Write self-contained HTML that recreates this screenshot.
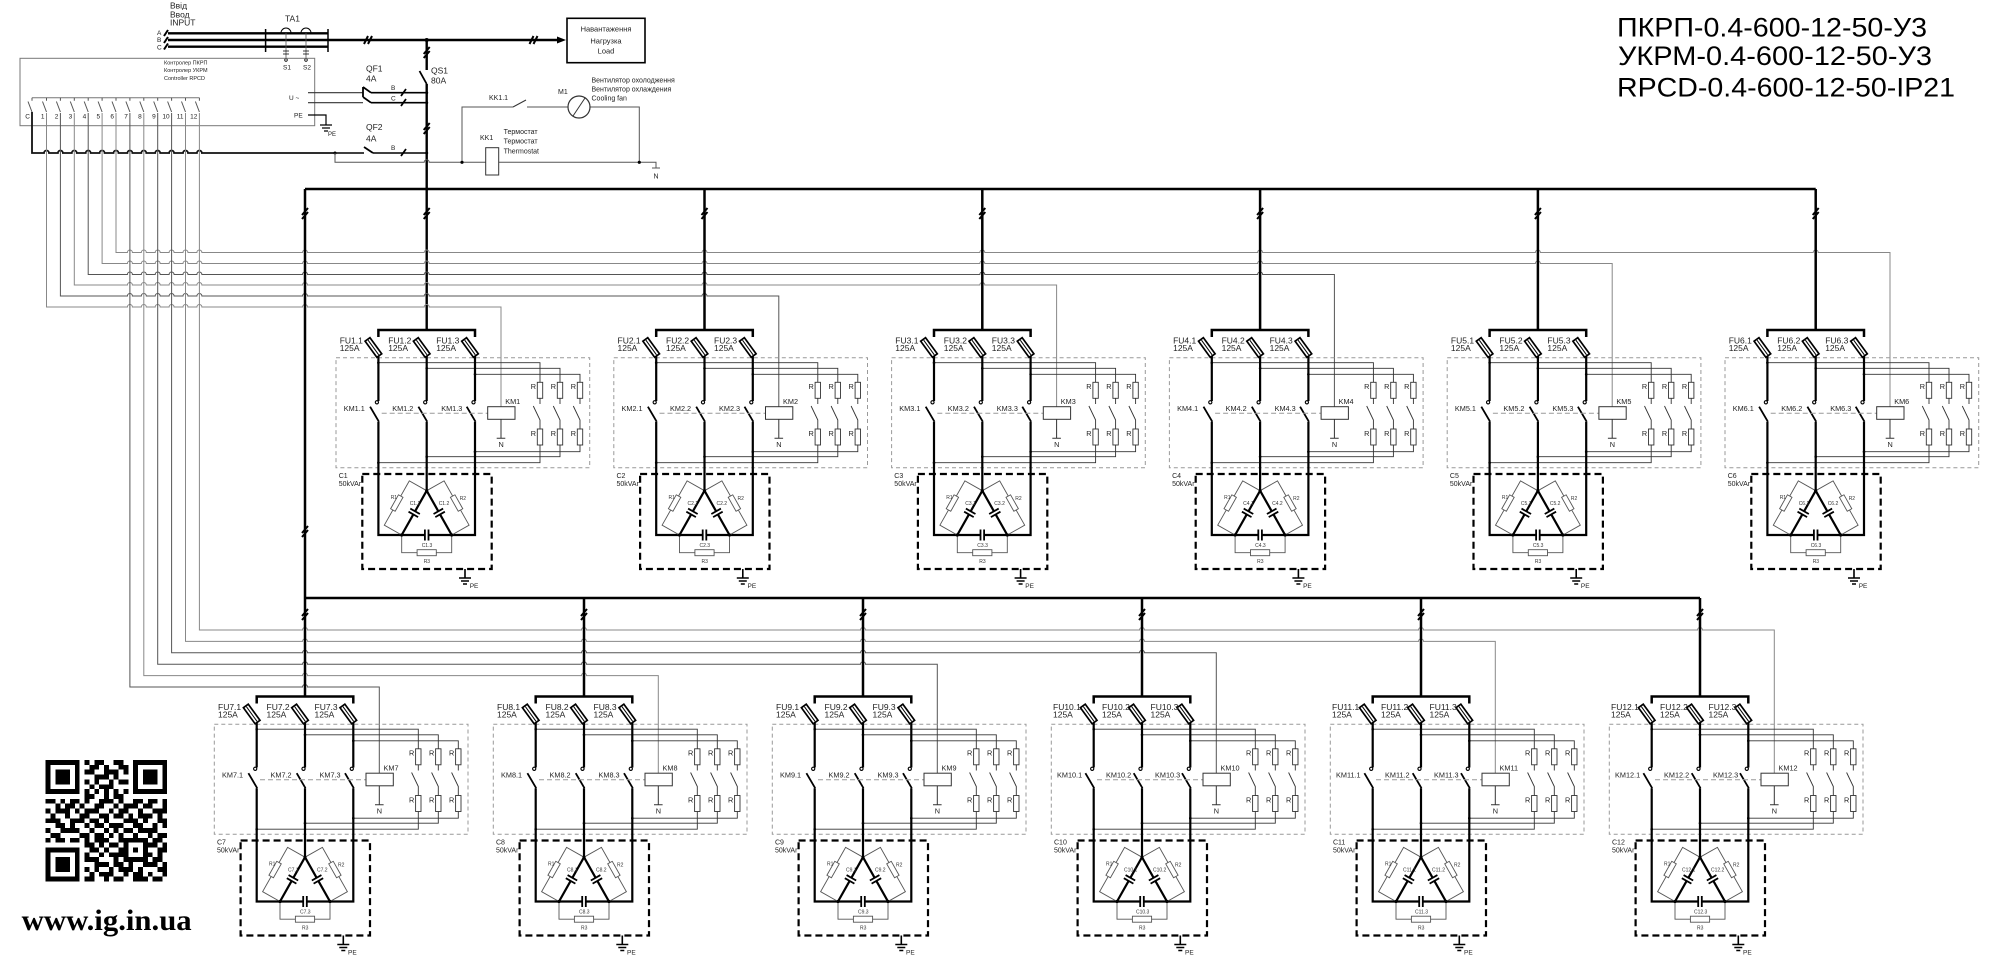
<!DOCTYPE html>
<html><head><meta charset="utf-8">
<style>
html,body{margin:0;padding:0;background:#fff;}
svg{display:block;}
text{font-family:"Liberation Sans",Arial,sans-serif;fill:#222;}
.f{font-size:8.5px;}
.k{font-size:7.3px;}
.c{font-size:7px;}
.u{font-size:5px;fill:#333;}
.s{font-size:6.5px;}
.t{font-size:8.5px;}
</style></head>
<body>
<svg xmlns="http://www.w3.org/2000/svg" xmlns:xlink="http://www.w3.org/1999/xlink" width="2000" height="963" viewBox="0 0 2000 963">
<rect width="2000" height="963" fill="#fff"/>
<defs>
<g id="m">
 <rect x="-90.7" y="27.7" width="253.7" height="110" fill="none" stroke="#999" stroke-width="1" stroke-dasharray="4,3"/>
 <rect x="-64.4" y="144" width="129.4" height="95" fill="none" stroke="#000" stroke-width="2.2" stroke-dasharray="7,4"/>
 <path d="M-48.3,7V0H48.3V7" fill="none" stroke="#000" stroke-width="2.5"/>
 <!-- taps -->
 <path d="M-48.3,32.7H113.3V52.3M0,38.3H133.3V52.3M48.3,44.3H153.3V52.3M48.3,121.7H153.3V115M0,126.7H133.3V115M-48.3,132.7H113.3V115" fill="none" stroke="#333" stroke-width="0.9"/>
 <!-- phase lines -->
 <path d="M-48.3,25V71M0,25V71M48.3,25V71" fill="none" stroke="#000" stroke-width="2.2"/>
 <path d="M-48.3,91.7V205H-1.8M1.8,205H48.3V91.7M0,91.7V160.7" fill="none" stroke="#000" stroke-width="2.2"/>
 <path d="M-56.6,76.7L-47.8,91.7M-8.3,76.7L0.5,91.7M40,76.7L48.8,91.7" stroke="#000" stroke-width="1.8"/>
 <g fill="#fff" stroke="#000" stroke-width="1.1">
  <circle cx="-49.8" cy="72.3" r="1.6"/><circle cx="-1.5" cy="72.3" r="1.6"/><circle cx="46.8" cy="72.3" r="1.6"/>
 </g>
 <!-- fuses -->
 <g transform="translate(-53.3,17.5) rotate(-36)"><rect x="-3" y="-10" width="6" height="20" fill="#fff" stroke="#000" stroke-width="1.7"/><line x1="0" y1="-9" x2="0" y2="9" stroke="#000" stroke-width="1"/></g>
 <g transform="translate(-5,17.5) rotate(-36)"><rect x="-3" y="-10" width="6" height="20" fill="#fff" stroke="#000" stroke-width="1.7"/><line x1="0" y1="-9" x2="0" y2="9" stroke="#000" stroke-width="1"/></g>
 <g transform="translate(43.3,17.5) rotate(-36)"><rect x="-3" y="-10" width="6" height="20" fill="#fff" stroke="#000" stroke-width="1.7"/><line x1="0" y1="-9" x2="0" y2="9" stroke="#000" stroke-width="1"/></g>
 <!-- KM link -->
 <path d="M-45,83.3H61" stroke="#999" stroke-width="1" stroke-dasharray="5,3"/>
 <rect x="61" y="76.7" width="27.3" height="12.6" fill="#fff" stroke="#333" stroke-width="1"/>
 <path d="M74.3,89.3V108.3M70,108.3H78.6" stroke="#333" stroke-width="1"/>
 <!-- resistors -->
 <g fill="#fff" stroke="#333" stroke-width="0.9">
  <rect x="110.6" y="52.3" width="5.4" height="16"/><rect x="130.6" y="52.3" width="5.4" height="16"/><rect x="150.6" y="52.3" width="5.4" height="16"/>
  <rect x="110.6" y="99" width="5.4" height="16"/><rect x="130.6" y="99" width="5.4" height="16"/><rect x="150.6" y="99" width="5.4" height="16"/>
  <path fill="none" d="M113.3,68.3V74M106.6,76L113.3,90V99M133.3,68.3V74M126.6,76L133.3,90V99M153.3,68.3V74M146.6,76L153.3,90V99"/>
 </g>
 <g fill="#000">
  <circle cx="-48.3" cy="32.7" r="1.3"/><circle cx="0" cy="38.3" r="1.3"/><circle cx="48.3" cy="44.3" r="1.3"/>
  <circle cx="48.3" cy="121.7" r="1.3"/><circle cx="0" cy="126.7" r="1.3"/><circle cx="-48.3" cy="132.7" r="1.3"/>
 </g>
 <!-- delta -->
 <path d="M0,160.7L-11.62,181.28M-13.38,184.42L-25,205M0,160.7L11.62,181.28M13.38,184.42L25,205" stroke="#000" stroke-width="2.2" fill="none"/>
 <path d="M-6.84,183.98L-16.41,178.58M-8.6,187.12L-18.17,181.72M6.84,183.98L16.41,178.58M8.6,187.12L18.17,181.72M-1.8,199.5V210.5M1.8,199.5V210.5" stroke="#000" stroke-width="1.8"/>
 <path d="M0,160.7L-17.4,150.9L-42.4,195.2L-25,205M0,160.7L17.4,150.9L42.4,195.2L25,205M-25,205V222.7H25V205" fill="none" stroke="#555" stroke-width="0.9"/>
 <g fill="#fff" stroke="#555" stroke-width="0.9">
  <rect x="-8" y="-2.6" width="16" height="5.2" transform="translate(-29.9,173.05) rotate(119.4)"/>
  <rect x="-8" y="-2.6" width="16" height="5.2" transform="translate(29.9,173.05) rotate(60.6)"/>
  <rect x="-9.6" y="219.7" width="19.2" height="6"/>
 </g>
 <g fill="#000"><circle cx="0" cy="160.7" r="1.6"/><circle cx="-25" cy="205" r="1.6"/><circle cx="25" cy="205" r="1.6"/></g>
 <!-- ground -->
 <path d="M38.3,239V248M32.3,248H44.3M34.3,251H42.3M36.3,254H40.3" stroke="#000" stroke-width="1.6"/>
</g>
</defs>

<!-- Title -->
<text x="1617" y="36.7" style="font-size:27px;fill:#000" textLength="310" lengthAdjust="spacingAndGlyphs">ПКРП-0.4-600-12-50-У3</text>
<text x="1618" y="65" style="font-size:27px;fill:#000" textLength="314" lengthAdjust="spacingAndGlyphs">УКРМ-0.4-600-12-50-У3</text>
<text x="1617" y="96.7" style="font-size:27px;fill:#000" textLength="338" lengthAdjust="spacingAndGlyphs">RPCD-0.4-600-12-50-IP21</text>

<!-- Input section -->
<text class="t" x="170" y="8.3">Ввід</text>
<text class="t" x="170" y="17.3">Ввод</text>
<text class="t" x="170" y="25.5">INPUT</text>
<text class="s" x="157" y="35">A</text><text class="s" x="157" y="42">B</text><text class="s" x="157" y="49.5">C</text>
<g stroke="#000" fill="none">
 <path d="M164,36l4,-6M164,43l4,-6M164,49.5l4,-6" stroke-width="2"/>
 <path d="M168,33.3H328M168,40H328M168,46.7H328" stroke-width="2.4"/>
 <path d="M265.6,29V52M328,29V52" stroke-width="1.5"/>
 <path d="M328,40H558" stroke-width="2.4"/>
 <path d="M281,33a5,5 0 0 1 10,0M301,33a5,5 0 0 1 10,0" stroke-width="1"/>
 <path d="M286,33V60M306,33V60" stroke="#555" stroke-width="0.8"/>
 <path d="M283,51h6M283,54h6M303,51h6M303,54h6" stroke-width="0.8"/>
 <rect x="567" y="18.3" width="78" height="44.4" stroke-width="1.6"/>
 <path d="M364,44l4,-8M368,44l4,-8M529.5,44l4,-8M533.5,44l4,-8" stroke-width="2"/>
</g>
<path d="M557,36.5L566,40L557,43.5Z" fill="#000"/>
<circle cx="286" cy="60" r="1.3" fill="#fff" stroke="#000" stroke-width="0.8"/><circle cx="306" cy="60" r="1.3" fill="#fff" stroke="#000" stroke-width="0.8"/>
<text x="285" y="21.7" class="t">TA1</text>
<text x="283" y="69.3" class="s">S1</text><text x="303" y="69.3" class="s">S2</text>
<text x="606" y="31.7" style="font-size:7.5px" text-anchor="middle">Навантаження</text>
<text x="606" y="43.3" style="font-size:7.5px" text-anchor="middle">Нагрузка</text>
<text x="606" y="53.3" style="font-size:7.5px" text-anchor="middle">Load</text>

<!-- QS1 -->
<path d="M426.7,40V70M426.7,84V330" stroke="#000" stroke-width="2.4" fill="none"/>
<path d="M426.7,84L419.5,71" stroke="#000" stroke-width="1.8"/>
<circle cx="426.7" cy="40" r="2" fill="#000"/>
<text class="t" x="431" y="73.3">QS1</text><text class="t" x="431" y="83.3">80A</text>

<!-- Controller -->
<rect x="20" y="58.3" width="294.7" height="67.4" fill="none" stroke="#777" stroke-width="1"/>
<text x="164" y="64.3" style="font-size:5.5px">Контролер ПКРП</text>
<text x="164" y="72" style="font-size:5.5px">Контролер УКРМ</text>
<text x="164" y="80" style="font-size:5.5px">Controller RPCD</text>
<text class="s" x="289" y="100">U ~</text>
<text class="s" x="294" y="117.3">PE</text>
<path d="M308,92.7H363M308,102.7H363" stroke="#333" stroke-width="1.2"/>
<path d="M363,87L371,92.7M363,97L371,102.7M363,87V97" stroke="#000" stroke-width="1.8"/>
<path d="M371,92.7H426.7M371,102.7H426.7" stroke="#000" stroke-width="1.6"/>
<path d="M401,96l5,-7M401,106l5,-7" stroke="#000" stroke-width="1.8"/>
<text class="s" x="391" y="90">B</text><text class="s" x="391" y="100.5">C</text>
<circle cx="426.7" cy="92.7" r="1.5" fill="#000"/><circle cx="426.7" cy="102.7" r="1.5" fill="#000"/>
<text class="t" x="366" y="71.7">QF1</text><text class="t" x="366" y="81.7">4A</text>
<path d="M308,115H326V125M320,125H332M322,128H330M324,131H328" stroke="#000" stroke-width="1.2" fill="none"/>
<text x="328" y="136" style="font-size:6px">PE</text>

<!-- switch bank -->
<path d="M32,97.7H199.4" stroke="#777" stroke-width="1"/>
<g stroke="#555" stroke-width="1" fill="none">
<path d="M32,97.7v3M28,101.5L32,112M46.5,97.7v3M42.5,101.5L46.5,112M60.4,97.7v3M56.4,101.5L60.4,112M74.3,97.7v3M70.3,101.5L74.3,112M88.2,97.7v3M84.2,101.5L88.2,112M102.1,97.7v3M98.1,101.5L102.1,112M116,97.7v3M112,101.5L116,112M129.9,97.7v3M125.9,101.5L129.9,112M143.8,97.7v3M139.8,101.5L143.8,112M157.7,97.7v3M153.7,101.5L157.7,112M171.6,97.7v3M167.6,101.5L171.6,112M185.5,97.7v3M181.5,101.5L185.5,112M199.4,97.7v3M195.4,101.5L199.4,112"/>
</g>
<g class="s" text-anchor="end">
<text x="30" y="118.3">C</text><text x="44.5" y="118.3">1</text><text x="58.4" y="118.3">2</text><text x="72.3" y="118.3">3</text><text x="86.2" y="118.3">4</text><text x="100.1" y="118.3">5</text><text x="114" y="118.3">6</text><text x="127.9" y="118.3">7</text><text x="141.8" y="118.3">8</text><text x="155.7" y="118.3">9</text><text x="169.6" y="118.3">10</text><text x="183.5" y="118.3">11</text><text x="197.4" y="118.3">12</text>
</g>

<!-- common line y=153 -->
<path d="M32,112V153H44a2.5 2.5 0 0 1 5 0H57.9a2.5 2.5 0 0 1 5 0H71.8a2.5 2.5 0 0 1 5 0H85.7a2.5 2.5 0 0 1 5 0H99.6a2.5 2.5 0 0 1 5 0H113.5a2.5 2.5 0 0 1 5 0H127.4a2.5 2.5 0 0 1 5 0H141.3a2.5 2.5 0 0 1 5 0H155.2a2.5 2.5 0 0 1 5 0H169.1a2.5 2.5 0 0 1 5 0H183a2.5 2.5 0 0 1 5 0H196.9a2.5 2.5 0 0 1 5 0H335" fill="none" stroke="#111" stroke-width="1.8"/>
<path d="M335,153H364M373,153H426.7" stroke="#000" stroke-width="1.6"/>
<path d="M364,147L373,153" stroke="#000" stroke-width="1.8"/>
<path d="M401,156l5,-7" stroke="#000" stroke-width="1.8"/>
<text class="s" x="391" y="150">B</text>
<text class="t" x="366" y="130">QF2</text><text class="t" x="366" y="141.7">4A</text>
<circle cx="426.7" cy="153" r="1.5" fill="#000"/><circle cx="335" cy="153" r="1.5" fill="#000"/>
<path d="M335,153V162.3H424.2a2.5 2.5 0 0 1 5 0H656V168M652,168H660" fill="none" stroke="#555" stroke-width="1"/>
<text x="656" y="178.3" class="c" text-anchor="middle">N</text>
<path d="M462,162.3V107H513M527,107H568M590,107H639.3V162.3" fill="none" stroke="#555" stroke-width="1"/>
<path d="M513,107L526,100" stroke="#333" stroke-width="1"/>
<circle cx="462" cy="162.3" r="1.6" fill="#000"/><circle cx="639.3" cy="162.3" r="1.6" fill="#000"/>
<circle cx="579" cy="107" r="11" fill="#fff" stroke="#333" stroke-width="1.2"/>
<path d="M573,116L585,98" stroke="#333" stroke-width="1"/>
<text class="c" x="489" y="100">KK1.1</text>
<text class="c" x="558" y="94">M1</text>
<text class="c" x="591.5" y="82.7">Вентилятор охолодження</text>
<text class="c" x="591.5" y="91.7">Вентилятор охлаждения</text>
<text class="c" x="591.5" y="100.7">Cooling fan</text>
<rect x="485.7" y="147.7" width="13" height="27.3" fill="#fff" stroke="#333" stroke-width="1"/>
<text class="c" x="480" y="140">KK1</text>
<text class="c" x="503.6" y="134">Термостат</text>
<text class="c" x="503.6" y="143.3">Термостат</text>
<text class="c" x="503.6" y="153.3">Thermostat</text>

<!-- Control lines -->
<g fill="none" stroke-width="1">
<path stroke="#888" d="M46.5,113V307H127.4a2.5 2.5 0 0 1 5 0H141.3a2.5 2.5 0 0 1 5 0H155.2a2.5 2.5 0 0 1 5 0H169.1a2.5 2.5 0 0 1 5 0H183a2.5 2.5 0 0 1 5 0H196.9a2.5 2.5 0 0 1 5 0H302.5a2.5 2.5 0 0 1 5 0H424.2a2.5 2.5 0 0 1 5 0H501V406.7"/>
<path stroke="#555" d="M60.4,113V296H127.4a2.5 2.5 0 0 1 5 0H141.3a2.5 2.5 0 0 1 5 0H155.2a2.5 2.5 0 0 1 5 0H169.1a2.5 2.5 0 0 1 5 0H183a2.5 2.5 0 0 1 5 0H196.9a2.5 2.5 0 0 1 5 0H302.5a2.5 2.5 0 0 1 5 0H424.2a2.5 2.5 0 0 1 5 0H702a2.5 2.5 0 0 1 5 0H778.8V406.7"/>
<path stroke="#888" d="M74.3,113V285H127.4a2.5 2.5 0 0 1 5 0H141.3a2.5 2.5 0 0 1 5 0H155.2a2.5 2.5 0 0 1 5 0H169.1a2.5 2.5 0 0 1 5 0H183a2.5 2.5 0 0 1 5 0H196.9a2.5 2.5 0 0 1 5 0H302.5a2.5 2.5 0 0 1 5 0H424.2a2.5 2.5 0 0 1 5 0H702a2.5 2.5 0 0 1 5 0H979.8a2.5 2.5 0 0 1 5 0H1056.6V406.7"/>
<path stroke="#555" d="M88.2,113V274.5H127.4a2.5 2.5 0 0 1 5 0H141.3a2.5 2.5 0 0 1 5 0H155.2a2.5 2.5 0 0 1 5 0H169.1a2.5 2.5 0 0 1 5 0H183a2.5 2.5 0 0 1 5 0H196.9a2.5 2.5 0 0 1 5 0H302.5a2.5 2.5 0 0 1 5 0H424.2a2.5 2.5 0 0 1 5 0H702a2.5 2.5 0 0 1 5 0H979.8a2.5 2.5 0 0 1 5 0H1257.6a2.5 2.5 0 0 1 5 0H1334.4V406.7"/>
<path stroke="#888" d="M102.1,113V263.5H127.4a2.5 2.5 0 0 1 5 0H141.3a2.5 2.5 0 0 1 5 0H155.2a2.5 2.5 0 0 1 5 0H169.1a2.5 2.5 0 0 1 5 0H183a2.5 2.5 0 0 1 5 0H196.9a2.5 2.5 0 0 1 5 0H302.5a2.5 2.5 0 0 1 5 0H424.2a2.5 2.5 0 0 1 5 0H702a2.5 2.5 0 0 1 5 0H979.8a2.5 2.5 0 0 1 5 0H1257.6a2.5 2.5 0 0 1 5 0H1535.4a2.5 2.5 0 0 1 5 0H1612.2V406.7"/>
<path stroke="#888" d="M116,113V252.5H127.4a2.5 2.5 0 0 1 5 0H141.3a2.5 2.5 0 0 1 5 0H155.2a2.5 2.5 0 0 1 5 0H169.1a2.5 2.5 0 0 1 5 0H183a2.5 2.5 0 0 1 5 0H196.9a2.5 2.5 0 0 1 5 0H302.5a2.5 2.5 0 0 1 5 0H424.2a2.5 2.5 0 0 1 5 0H702a2.5 2.5 0 0 1 5 0H979.8a2.5 2.5 0 0 1 5 0H1257.6a2.5 2.5 0 0 1 5 0H1535.4a2.5 2.5 0 0 1 5 0H1813.2a2.5 2.5 0 0 1 5 0H1890V406.7"/>
<path stroke="#555" d="M129.9,113V687H302.5a2.5 2.5 0 0 1 5 0H379.3V773.2"/>
<path stroke="#888" d="M143.8,113V675.6H302.5a2.5 2.5 0 0 1 5 0H581.5a2.5 2.5 0 0 1 5 0H658.3V773.2"/>
<path stroke="#555" d="M157.7,113V664.2H302.5a2.5 2.5 0 0 1 5 0H581.5a2.5 2.5 0 0 1 5 0H860.5a2.5 2.5 0 0 1 5 0H937.3V773.2"/>
<path stroke="#555" d="M171.6,113V652.8H302.5a2.5 2.5 0 0 1 5 0H581.5a2.5 2.5 0 0 1 5 0H860.5a2.5 2.5 0 0 1 5 0H1139.5a2.5 2.5 0 0 1 5 0H1216.3V773.2"/>
<path stroke="#888" d="M185.5,113V641.4H302.5a2.5 2.5 0 0 1 5 0H581.5a2.5 2.5 0 0 1 5 0H860.5a2.5 2.5 0 0 1 5 0H1139.5a2.5 2.5 0 0 1 5 0H1418.5a2.5 2.5 0 0 1 5 0H1495.3V773.2"/>
<path stroke="#888" d="M199.4,113V630H302.5a2.5 2.5 0 0 1 5 0H581.5a2.5 2.5 0 0 1 5 0H860.5a2.5 2.5 0 0 1 5 0H1139.5a2.5 2.5 0 0 1 5 0H1418.5a2.5 2.5 0 0 1 5 0H1697.5a2.5 2.5 0 0 1 5 0H1774.3V773.2"/>
</g>

<!-- Power buses -->
<g stroke="#000" stroke-width="2.5" fill="none">
<path d="M305,189H1815.7M305,189V696.5M305,598H1700"/>
<path d="M704.5,189V330M982.3,189V330M1260.1,189V330M1537.9,189V330M1815.7,189V330"/>
<path d="M584,598V696.5M863,598V696.5M1142,598V696.5M1421,598V696.5M1700,598V696.5"/>
</g>
<g stroke="#000" stroke-width="2" fill="none">
<path d="M423.7,54l6,-7M423.7,58l6,-7M423.7,130l6,-7M423.7,134l6,-7M423.7,215l6,-7M423.7,219l6,-7"/>
<path d="M302,215l6,-7M302,219l6,-7M302,533l6,-7M302,537l6,-7M302,616l6,-7M302,620l6,-7"/>
<path d="M701.5,215l6,-7M701.5,219l6,-7M979.3,215l6,-7M979.3,219l6,-7M1257.1,215l6,-7M1257.1,219l6,-7M1534.9,215l6,-7M1534.9,219l6,-7M1812.7,215l6,-7M1812.7,219l6,-7"/>
<path d="M581,616l6,-7M581,620l6,-7M860,616l6,-7M860,620l6,-7M1139,616l6,-7M1139,620l6,-7M1418,616l6,-7M1418,620l6,-7M1697,616l6,-7M1697,620l6,-7"/>
</g>

<!-- Modules -->
<use href="#m" xlink:href="#m" transform="translate(426.7,330)"/>
<use href="#m" xlink:href="#m" transform="translate(704.5,330)"/>
<use href="#m" xlink:href="#m" transform="translate(982.3,330)"/>
<use href="#m" xlink:href="#m" transform="translate(1260.1,330)"/>
<use href="#m" xlink:href="#m" transform="translate(1537.9,330)"/>
<use href="#m" xlink:href="#m" transform="translate(1815.7,330)"/>
<use href="#m" xlink:href="#m" transform="translate(305,696.5)"/>
<use href="#m" xlink:href="#m" transform="translate(584,696.5)"/>
<use href="#m" xlink:href="#m" transform="translate(863,696.5)"/>
<use href="#m" xlink:href="#m" transform="translate(1142,696.5)"/>
<use href="#m" xlink:href="#m" transform="translate(1421,696.5)"/>
<use href="#m" xlink:href="#m" transform="translate(1700,696.5)"/>

<!-- Module texts -->
<g transform="translate(426.7,330)">
<text class="f" x="-87" y="13.3">FU1.1</text><text class="f" x="-87" y="21">125A</text><text class="f" x="-38.5" y="13.3">FU1.2</text><text class="f" x="-38.5" y="21">125A</text><text class="f" x="9.5" y="13.3">FU1.3</text><text class="f" x="9.5" y="21">125A</text>
<text class="k" x="-83" y="81">KM1.1</text><text class="k" x="-34.5" y="81">KM1.2</text><text class="k" x="14.5" y="81">KM1.3</text><text class="k" x="78.5" y="74">KM1</text><text class="k" x="71.8" y="117">N</text>
<text class="k" x="104" y="59">R</text><text class="k" x="124" y="59">R</text><text class="k" x="144" y="59">R</text><text class="k" x="104" y="106">R</text><text class="k" x="124" y="106">R</text><text class="k" x="144" y="106">R</text>
<text class="c" x="-88" y="148">C1</text><text class="c" x="-88" y="156">50kVAr</text>
<text class="u" x="-36" y="169">R1</text><text class="u" x="-17" y="175">C1.1</text><text class="u" x="12" y="175">C1.2</text><text class="u" x="33" y="170">R2</text><text class="u" x="-5" y="217">C1.3</text><text class="u" x="-3" y="233">R3</text><text class="s" x="43" y="258">PE</text>
</g>
<g transform="translate(704.5,330)">
<text class="f" x="-87" y="13.3">FU2.1</text><text class="f" x="-87" y="21">125A</text><text class="f" x="-38.5" y="13.3">FU2.2</text><text class="f" x="-38.5" y="21">125A</text><text class="f" x="9.5" y="13.3">FU2.3</text><text class="f" x="9.5" y="21">125A</text>
<text class="k" x="-83" y="81">KM2.1</text><text class="k" x="-34.5" y="81">KM2.2</text><text class="k" x="14.5" y="81">KM2.3</text><text class="k" x="78.5" y="74">KM2</text><text class="k" x="71.8" y="117">N</text>
<text class="k" x="104" y="59">R</text><text class="k" x="124" y="59">R</text><text class="k" x="144" y="59">R</text><text class="k" x="104" y="106">R</text><text class="k" x="124" y="106">R</text><text class="k" x="144" y="106">R</text>
<text class="c" x="-88" y="148">C2</text><text class="c" x="-88" y="156">50kVAr</text>
<text class="u" x="-36" y="169">R1</text><text class="u" x="-17" y="175">C2.1</text><text class="u" x="12" y="175">C2.2</text><text class="u" x="33" y="170">R2</text><text class="u" x="-5" y="217">C2.3</text><text class="u" x="-3" y="233">R3</text><text class="s" x="43" y="258">PE</text>
</g>
<g transform="translate(982.3,330)">
<text class="f" x="-87" y="13.3">FU3.1</text><text class="f" x="-87" y="21">125A</text><text class="f" x="-38.5" y="13.3">FU3.2</text><text class="f" x="-38.5" y="21">125A</text><text class="f" x="9.5" y="13.3">FU3.3</text><text class="f" x="9.5" y="21">125A</text>
<text class="k" x="-83" y="81">KM3.1</text><text class="k" x="-34.5" y="81">KM3.2</text><text class="k" x="14.5" y="81">KM3.3</text><text class="k" x="78.5" y="74">KM3</text><text class="k" x="71.8" y="117">N</text>
<text class="k" x="104" y="59">R</text><text class="k" x="124" y="59">R</text><text class="k" x="144" y="59">R</text><text class="k" x="104" y="106">R</text><text class="k" x="124" y="106">R</text><text class="k" x="144" y="106">R</text>
<text class="c" x="-88" y="148">C3</text><text class="c" x="-88" y="156">50kVAr</text>
<text class="u" x="-36" y="169">R1</text><text class="u" x="-17" y="175">C3.1</text><text class="u" x="12" y="175">C3.2</text><text class="u" x="33" y="170">R2</text><text class="u" x="-5" y="217">C3.3</text><text class="u" x="-3" y="233">R3</text><text class="s" x="43" y="258">PE</text>
</g>
<g transform="translate(1260.1,330)">
<text class="f" x="-87" y="13.3">FU4.1</text><text class="f" x="-87" y="21">125A</text><text class="f" x="-38.5" y="13.3">FU4.2</text><text class="f" x="-38.5" y="21">125A</text><text class="f" x="9.5" y="13.3">FU4.3</text><text class="f" x="9.5" y="21">125A</text>
<text class="k" x="-83" y="81">KM4.1</text><text class="k" x="-34.5" y="81">KM4.2</text><text class="k" x="14.5" y="81">KM4.3</text><text class="k" x="78.5" y="74">KM4</text><text class="k" x="71.8" y="117">N</text>
<text class="k" x="104" y="59">R</text><text class="k" x="124" y="59">R</text><text class="k" x="144" y="59">R</text><text class="k" x="104" y="106">R</text><text class="k" x="124" y="106">R</text><text class="k" x="144" y="106">R</text>
<text class="c" x="-88" y="148">C4</text><text class="c" x="-88" y="156">50kVAr</text>
<text class="u" x="-36" y="169">R1</text><text class="u" x="-17" y="175">C4.1</text><text class="u" x="12" y="175">C4.2</text><text class="u" x="33" y="170">R2</text><text class="u" x="-5" y="217">C4.3</text><text class="u" x="-3" y="233">R3</text><text class="s" x="43" y="258">PE</text>
</g>
<g transform="translate(1537.9,330)">
<text class="f" x="-87" y="13.3">FU5.1</text><text class="f" x="-87" y="21">125A</text><text class="f" x="-38.5" y="13.3">FU5.2</text><text class="f" x="-38.5" y="21">125A</text><text class="f" x="9.5" y="13.3">FU5.3</text><text class="f" x="9.5" y="21">125A</text>
<text class="k" x="-83" y="81">KM5.1</text><text class="k" x="-34.5" y="81">KM5.2</text><text class="k" x="14.5" y="81">KM5.3</text><text class="k" x="78.5" y="74">KM5</text><text class="k" x="71.8" y="117">N</text>
<text class="k" x="104" y="59">R</text><text class="k" x="124" y="59">R</text><text class="k" x="144" y="59">R</text><text class="k" x="104" y="106">R</text><text class="k" x="124" y="106">R</text><text class="k" x="144" y="106">R</text>
<text class="c" x="-88" y="148">C5</text><text class="c" x="-88" y="156">50kVAr</text>
<text class="u" x="-36" y="169">R1</text><text class="u" x="-17" y="175">C5.1</text><text class="u" x="12" y="175">C5.2</text><text class="u" x="33" y="170">R2</text><text class="u" x="-5" y="217">C5.3</text><text class="u" x="-3" y="233">R3</text><text class="s" x="43" y="258">PE</text>
</g>
<g transform="translate(1815.7,330)">
<text class="f" x="-87" y="13.3">FU6.1</text><text class="f" x="-87" y="21">125A</text><text class="f" x="-38.5" y="13.3">FU6.2</text><text class="f" x="-38.5" y="21">125A</text><text class="f" x="9.5" y="13.3">FU6.3</text><text class="f" x="9.5" y="21">125A</text>
<text class="k" x="-83" y="81">KM6.1</text><text class="k" x="-34.5" y="81">KM6.2</text><text class="k" x="14.5" y="81">KM6.3</text><text class="k" x="78.5" y="74">KM6</text><text class="k" x="71.8" y="117">N</text>
<text class="k" x="104" y="59">R</text><text class="k" x="124" y="59">R</text><text class="k" x="144" y="59">R</text><text class="k" x="104" y="106">R</text><text class="k" x="124" y="106">R</text><text class="k" x="144" y="106">R</text>
<text class="c" x="-88" y="148">C6</text><text class="c" x="-88" y="156">50kVAr</text>
<text class="u" x="-36" y="169">R1</text><text class="u" x="-17" y="175">C6.1</text><text class="u" x="12" y="175">C6.2</text><text class="u" x="33" y="170">R2</text><text class="u" x="-5" y="217">C6.3</text><text class="u" x="-3" y="233">R3</text><text class="s" x="43" y="258">PE</text>
</g>
<g transform="translate(305,696.5)">
<text class="f" x="-87" y="13.3">FU7.1</text><text class="f" x="-87" y="21">125A</text><text class="f" x="-38.5" y="13.3">FU7.2</text><text class="f" x="-38.5" y="21">125A</text><text class="f" x="9.5" y="13.3">FU7.3</text><text class="f" x="9.5" y="21">125A</text>
<text class="k" x="-83" y="81">KM7.1</text><text class="k" x="-34.5" y="81">KM7.2</text><text class="k" x="14.5" y="81">KM7.3</text><text class="k" x="78.5" y="74">KM7</text><text class="k" x="71.8" y="117">N</text>
<text class="k" x="104" y="59">R</text><text class="k" x="124" y="59">R</text><text class="k" x="144" y="59">R</text><text class="k" x="104" y="106">R</text><text class="k" x="124" y="106">R</text><text class="k" x="144" y="106">R</text>
<text class="c" x="-88" y="148">C7</text><text class="c" x="-88" y="156">50kVAr</text>
<text class="u" x="-36" y="169">R1</text><text class="u" x="-17" y="175">C7.1</text><text class="u" x="12" y="175">C7.2</text><text class="u" x="33" y="170">R2</text><text class="u" x="-5" y="217">C7.3</text><text class="u" x="-3" y="233">R3</text><text class="s" x="43" y="258">PE</text>
</g>
<g transform="translate(584,696.5)">
<text class="f" x="-87" y="13.3">FU8.1</text><text class="f" x="-87" y="21">125A</text><text class="f" x="-38.5" y="13.3">FU8.2</text><text class="f" x="-38.5" y="21">125A</text><text class="f" x="9.5" y="13.3">FU8.3</text><text class="f" x="9.5" y="21">125A</text>
<text class="k" x="-83" y="81">KM8.1</text><text class="k" x="-34.5" y="81">KM8.2</text><text class="k" x="14.5" y="81">KM8.3</text><text class="k" x="78.5" y="74">KM8</text><text class="k" x="71.8" y="117">N</text>
<text class="k" x="104" y="59">R</text><text class="k" x="124" y="59">R</text><text class="k" x="144" y="59">R</text><text class="k" x="104" y="106">R</text><text class="k" x="124" y="106">R</text><text class="k" x="144" y="106">R</text>
<text class="c" x="-88" y="148">C8</text><text class="c" x="-88" y="156">50kVAr</text>
<text class="u" x="-36" y="169">R1</text><text class="u" x="-17" y="175">C8.1</text><text class="u" x="12" y="175">C8.2</text><text class="u" x="33" y="170">R2</text><text class="u" x="-5" y="217">C8.3</text><text class="u" x="-3" y="233">R3</text><text class="s" x="43" y="258">PE</text>
</g>
<g transform="translate(863,696.5)">
<text class="f" x="-87" y="13.3">FU9.1</text><text class="f" x="-87" y="21">125A</text><text class="f" x="-38.5" y="13.3">FU9.2</text><text class="f" x="-38.5" y="21">125A</text><text class="f" x="9.5" y="13.3">FU9.3</text><text class="f" x="9.5" y="21">125A</text>
<text class="k" x="-83" y="81">KM9.1</text><text class="k" x="-34.5" y="81">KM9.2</text><text class="k" x="14.5" y="81">KM9.3</text><text class="k" x="78.5" y="74">KM9</text><text class="k" x="71.8" y="117">N</text>
<text class="k" x="104" y="59">R</text><text class="k" x="124" y="59">R</text><text class="k" x="144" y="59">R</text><text class="k" x="104" y="106">R</text><text class="k" x="124" y="106">R</text><text class="k" x="144" y="106">R</text>
<text class="c" x="-88" y="148">C9</text><text class="c" x="-88" y="156">50kVAr</text>
<text class="u" x="-36" y="169">R1</text><text class="u" x="-17" y="175">C9.1</text><text class="u" x="12" y="175">C9.2</text><text class="u" x="33" y="170">R2</text><text class="u" x="-5" y="217">C9.3</text><text class="u" x="-3" y="233">R3</text><text class="s" x="43" y="258">PE</text>
</g>
<g transform="translate(1142,696.5)">
<text class="f" x="-89" y="13.3">FU10.1</text><text class="f" x="-89" y="21">125A</text><text class="f" x="-40" y="13.3">FU10.2</text><text class="f" x="-40" y="21">125A</text><text class="f" x="8.5" y="13.3">FU10.3</text><text class="f" x="8.5" y="21">125A</text>
<text class="k" x="-85" y="81">KM10.1</text><text class="k" x="-36" y="81">KM10.2</text><text class="k" x="13" y="81">KM10.3</text><text class="k" x="78.5" y="74">KM10</text><text class="k" x="71.8" y="117">N</text>
<text class="k" x="104" y="59">R</text><text class="k" x="124" y="59">R</text><text class="k" x="144" y="59">R</text><text class="k" x="104" y="106">R</text><text class="k" x="124" y="106">R</text><text class="k" x="144" y="106">R</text>
<text class="c" x="-88" y="148">C10</text><text class="c" x="-88" y="156">50kVAr</text>
<text class="u" x="-36" y="169">R1</text><text class="u" x="-18" y="175">C10.1</text><text class="u" x="11" y="175">C10.2</text><text class="u" x="33" y="170">R2</text><text class="u" x="-6" y="217">C10.3</text><text class="u" x="-3" y="233">R3</text><text class="s" x="43" y="258">PE</text>
</g>
<g transform="translate(1421,696.5)">
<text class="f" x="-89" y="13.3">FU11.1</text><text class="f" x="-89" y="21">125A</text><text class="f" x="-40" y="13.3">FU11.2</text><text class="f" x="-40" y="21">125A</text><text class="f" x="8.5" y="13.3">FU11.3</text><text class="f" x="8.5" y="21">125A</text>
<text class="k" x="-85" y="81">KM11.1</text><text class="k" x="-36" y="81">KM11.2</text><text class="k" x="13" y="81">KM11.3</text><text class="k" x="78.5" y="74">KM11</text><text class="k" x="71.8" y="117">N</text>
<text class="k" x="104" y="59">R</text><text class="k" x="124" y="59">R</text><text class="k" x="144" y="59">R</text><text class="k" x="104" y="106">R</text><text class="k" x="124" y="106">R</text><text class="k" x="144" y="106">R</text>
<text class="c" x="-88" y="148">C11</text><text class="c" x="-88" y="156">50kVAr</text>
<text class="u" x="-36" y="169">R1</text><text class="u" x="-18" y="175">C11.1</text><text class="u" x="11" y="175">C11.2</text><text class="u" x="33" y="170">R2</text><text class="u" x="-6" y="217">C11.3</text><text class="u" x="-3" y="233">R3</text><text class="s" x="43" y="258">PE</text>
</g>
<g transform="translate(1700,696.5)">
<text class="f" x="-89" y="13.3">FU12.1</text><text class="f" x="-89" y="21">125A</text><text class="f" x="-40" y="13.3">FU12.2</text><text class="f" x="-40" y="21">125A</text><text class="f" x="8.5" y="13.3">FU12.3</text><text class="f" x="8.5" y="21">125A</text>
<text class="k" x="-85" y="81">KM12.1</text><text class="k" x="-36" y="81">KM12.2</text><text class="k" x="13" y="81">KM12.3</text><text class="k" x="78.5" y="74">KM12</text><text class="k" x="71.8" y="117">N</text>
<text class="k" x="104" y="59">R</text><text class="k" x="124" y="59">R</text><text class="k" x="144" y="59">R</text><text class="k" x="104" y="106">R</text><text class="k" x="124" y="106">R</text><text class="k" x="144" y="106">R</text>
<text class="c" x="-88" y="148">C12</text><text class="c" x="-88" y="156">50kVAr</text>
<text class="u" x="-36" y="169">R1</text><text class="u" x="-18" y="175">C12.1</text><text class="u" x="11" y="175">C12.2</text><text class="u" x="33" y="170">R2</text><text class="u" x="-6" y="217">C12.3</text><text class="u" x="-3" y="233">R3</text><text class="s" x="43" y="258">PE</text>
</g>

<!-- QR code -->
<g transform="translate(45.7,760) scale(4.86)" fill="#000" shape-rendering="crispEdges">
<path d="M0,0h7v1h-7zM8,0h1v1h-1zM10,0h2v1h-2zM14,0h2v1h-2zM18,0h7v1h-7z
M0,1h1v1h-1zM6,1h1v1h-1zM9,1h2v1h-2zM12,1h1v1h-1zM15,1h2v1h-2zM18,1h1v1h-1zM24,1h1v1h-1z
M0,2h1v1h-1zM2,2h3v1h-3zM6,2h1v1h-1zM8,2h2v1h-2zM12,2h3v1h-3zM16,2h1v1h-1zM18,2h1v1h-1zM20,2h3v1h-3zM24,2h1v1h-1z
M0,3h1v1h-1zM2,3h3v1h-3zM6,3h1v1h-1zM10,3h3v1h-3zM14,3h1v1h-1zM18,3h1v1h-1zM20,3h3v1h-3zM24,3h1v1h-1z
M0,4h1v1h-1zM2,4h3v1h-3zM6,4h1v1h-1zM8,4h1v1h-1zM10,4h1v1h-1zM13,4h1v1h-1zM15,4h2v1h-2zM18,4h1v1h-1zM20,4h3v1h-3zM24,4h1v1h-1z
M0,5h1v1h-1zM6,5h1v1h-1zM9,5h1v1h-1zM11,5h3v1h-3zM18,5h1v1h-1zM24,5h1v1h-1z
M0,6h7v1h-7zM8,6h1v1h-1zM10,6h1v1h-1zM12,6h1v1h-1zM14,6h1v1h-1zM16,6h1v1h-1zM18,6h7v1h-7z
M8,7h2v1h-2zM12,7h1v1h-1zM14,7h2v1h-2z
M0,8h2v1h-2zM3,8h1v1h-1zM5,8h2v1h-2zM8,8h1v1h-1zM11,8h3v1h-3zM15,8h1v1h-1zM18,8h2v1h-2zM21,8h2v1h-2zM24,8h1v1h-1z
M2,9h1v1h-1zM4,9h2v1h-2zM7,9h1v1h-1zM10,9h2v1h-2zM14,9h1v1h-1zM16,9h3v1h-3zM20,9h2v1h-2zM24,9h1v1h-1z
M0,10h1v1h-1zM2,10h3v1h-3zM6,10h1v1h-1zM8,10h3v1h-3zM13,10h1v1h-1zM15,10h2v1h-2zM19,10h1v1h-1zM22,10h3v1h-3z
M1,11h1v1h-1zM4,11h1v1h-1zM7,11h2v1h-2zM11,11h2v1h-2zM14,11h2v1h-2zM17,11h1v1h-1zM19,11h3v1h-3zM23,11h1v1h-1z
M0,12h3v1h-3zM5,12h3v1h-3zM9,12h2v1h-2zM12,12h1v1h-1zM16,12h3v1h-3zM20,12h1v1h-1zM23,12h2v1h-2z
M2,13h2v1h-2zM5,13h1v1h-1zM8,13h1v1h-1zM10,13h2v1h-2zM13,13h3v1h-3zM18,13h2v1h-2zM22,13h1v1h-1zM24,13h1v1h-1z
M0,14h1v1h-1zM3,14h4v1h-4zM9,14h1v1h-1zM12,14h1v1h-1zM14,14h1v1h-1zM16,14h2v1h-2zM19,14h4v1h-4z
M1,15h2v1h-2zM7,15h2v1h-2zM10,15h2v1h-2zM13,15h1v1h-1zM15,15h1v1h-1zM18,15h1v1h-1zM21,15h1v1h-1zM23,15h2v1h-2z
M0,16h1v1h-1zM2,16h2v1h-2zM5,16h2v1h-2zM8,16h1v1h-1zM10,16h3v1h-3zM15,16h6v1h-6zM22,16h2v1h-2z
M8,17h2v1h-2zM11,17h1v1h-1zM13,17h2v1h-2zM16,17h1v1h-1zM20,17h3v1h-3zM24,17h1v1h-1z
M0,18h7v1h-7zM9,18h2v1h-2zM12,18h1v1h-1zM15,18h2v1h-2zM18,18h1v1h-1zM20,18h1v1h-1zM23,18h2v1h-2z
M0,19h1v1h-1zM6,19h1v1h-1zM8,19h1v1h-1zM11,19h1v1h-1zM13,19h4v1h-4zM20,19h2v1h-2zM23,19h1v1h-1z
M0,20h1v1h-1zM2,20h3v1h-3zM6,20h1v1h-1zM8,20h3v1h-3zM14,20h1v1h-1zM16,20h5v1h-5zM22,20h2v1h-2z
M0,21h1v1h-1zM2,21h3v1h-3zM6,21h1v1h-1zM10,21h3v1h-3zM14,21h2v1h-2zM17,21h1v1h-1zM20,21h3v1h-3zM24,21h1v1h-1z
M0,22h1v1h-1zM2,22h3v1h-3zM6,22h1v1h-1zM8,22h1v1h-1zM10,22h1v1h-1zM13,22h1v1h-1zM15,22h3v1h-3zM19,22h1v1h-1zM23,22h2v1h-2z
M0,23h1v1h-1zM6,23h1v1h-1zM9,23h1v1h-1zM11,23h3v1h-3zM16,23h1v1h-1zM18,23h2v1h-2zM21,23h1v1h-1zM24,23h1v1h-1z
M0,24h7v1h-7zM8,24h2v1h-2zM12,24h1v1h-1zM14,24h2v1h-2zM18,24h3v1h-3zM22,24h2v1h-2z"/>
</g>

<text x="21.7" y="930" style="font-family:'Liberation Serif',serif;font-weight:bold;font-size:30px;fill:#000" textLength="170" lengthAdjust="spacingAndGlyphs">www.ig.in.ua</text>
</svg>
</body></html>
